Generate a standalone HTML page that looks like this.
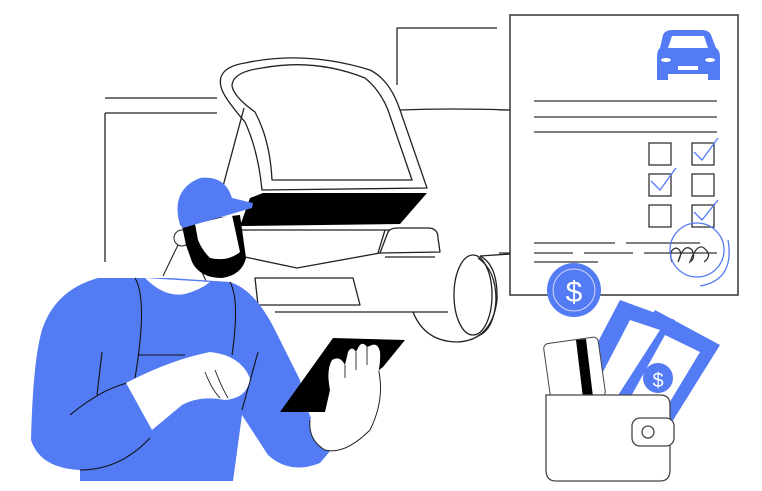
<!DOCTYPE html>
<html><head><meta charset="utf-8"><style>
html,body{margin:0;padding:0;background:#fff;width:762px;height:491px;overflow:hidden}
</style></head><body>
<svg width="762" height="491" viewBox="0 0 762 491" xmlns="http://www.w3.org/2000/svg">
<g fill="none" stroke="#222" stroke-width="1.3" stroke-linejoin="round">
<path d="M105 98 H217 M105 113 H217 M105 113 V262"/>
<path d="M397 85 V28 H497"/>
<path d="M400 110 Q450 108 510 110"/>
<path d="M480 256 L510 254"/>
<path d="M222 90 Q214 68 245 63 Q305 50 370 70 Q390 80 400 110 L427 188 L262 190 Q258 150 245 122 Q226 100 222 90 Z"/>
<path d="M232 86 Q232 72 262 68 Q315 58 365 78 Q380 90 388 110 L412 180 L272 180 Q270 140 255 112 Q234 97 232 86 Z"/>
<path d="M244 108 L222 190"/>
<path d="M240 230 H390 M385 230 L378 253 M380 253 L388 232 Q390 228 398 228 H428 Q438 228 438 238 L440 252 Z"/>
<path d="M245 257 L297 268 L380 253 M385 257 H435"/>
<path d="M255 278 H353 L360 305 H258 Z"/>
<path d="M275 312 H448"/>
<ellipse cx="473" cy="295" rx="19" ry="40"/>
<path d="M478 258 Q496 270 496 300 Q494 330 478 336"/>
<path d="M413 312 Q425 342 458 342 Q492 340 497 300 Q498 265 480 256"/>
</g>
<polygon points="263,193 427,193 400,224 240,226 250,198" fill="#000"/>
<rect x="510" y="15" width="228" height="280" fill="#fff" stroke="#333" stroke-width="1.5"/>
<path d="M499 110 H510 M499 253 H510" stroke="#333" stroke-width="1.3"/>
<path d="M663 35 Q665 30 672 30 H702 Q709 30 711 35 L716 48 Q720 50 720 58 V80 H708 V74 H668 V80 H657 V58 Q657 50 660 48 Z" fill="#537bf3"/>
<path d="M668 48 L672 36 H704 L708 48 Z" fill="#fff"/>
<rect x="678" y="66" width="20" height="4" fill="#fff"/>
<ellipse cx="666" cy="60" rx="5" ry="2" fill="#fff"/><ellipse cx="710" cy="60" rx="5" ry="2" fill="#fff"/>
<g stroke="#333" stroke-width="1.3" fill="none">
<path d="M534 101 H717 M534 117 H717 M534 132 H717"/>
<rect x="649" y="143" width="22" height="22"/><rect x="692" y="143" width="22" height="22"/>
<rect x="649" y="174" width="22" height="22"/><rect x="692" y="174" width="22" height="22"/>
<rect x="649" y="205" width="22" height="22"/><rect x="692" y="205" width="22" height="22"/>
<path d="M534 243 H615 M626 243 H700 M534 253 H573 M584 253 H633 M644 253 H717 M534 262 H598"/>
<path d="M672 262 Q668 250 676 248 Q684 250 678 262 Q684 242 692 250 Q696 258 690 262 Q698 240 706 250 Q712 256 704 262"/>
</g>
<g stroke="#537bf3" stroke-width="1.3" fill="none">
<path d="M694 152 L702 160 L718 138 M651 181 L660 190 L676 168 M694 212 L702 220 L718 200"/>
<circle cx="697" cy="250" r="27"/><path d="M700 286 Q735 280 728 240"/>
</g>
<circle cx="574" cy="290" r="27" fill="#537bf3"/>
<circle cx="574" cy="290" r="21" fill="none" stroke="#cfd9ff" stroke-width="1"/>
<text x="574" y="302" font-family="Liberation Sans, sans-serif" font-size="30" fill="#fff" text-anchor="middle">$</text>
<polygon points="620,300 675,320 613,412 570,395" fill="#537bf3"/>
<polygon points="655,310 720,345 672,422 600,400" fill="#537bf3"/>
<polygon points="630,320 660,330 615,400 592,393" fill="#fff"/>
<polygon points="665,335 700,352 665,410 630,398" fill="#fff"/>
<circle cx="658" cy="378" r="15" fill="#537bf3"/>
<text x="658" y="387" font-family="Liberation Sans, sans-serif" font-size="20" fill="#fff" text-anchor="middle">$</text>
<rect x="547" y="340" width="55" height="60" rx="5" fill="#fff" stroke="#444" transform="rotate(-8 575 370)"/>
<polygon points="576,340 586,339 593,397 583,398" fill="#000"/>
<path d="M546 395 H660 Q670 395 670 405 V470 Q670 481 660 481 H556 Q546 481 546 470 Z" fill="#fff" stroke="#444" stroke-width="1.3"/>
<rect x="632" y="418" width="42" height="28" rx="8" fill="#fff" stroke="#444" stroke-width="1.3"/>
<circle cx="648" cy="432" r="6" fill="none" stroke="#444" stroke-width="1.3"/>
<!-- person -->
<path d="M178 245 L163 276 L200 278 L205 268 Z" fill="#fff"/>
<path d="M178 245 L163 276 M202 272 L206 281" stroke="#222" stroke-width="1.1" fill="none"/>
<path d="M98 278 Q55 290 42 330 Q33 360 31 440 Q40 468 80 470 V481 H233 L242 415 L268 455 Q290 475 320 463 L331 450 Q310 430 300 380 L275 330 Q255 290 230 282 L170 278 Z" fill="#537bf3"/>
<path d="M145 278 Q165 298 185 294 Q200 290 210 282" fill="#fff"/>
<g stroke="#111" stroke-width="1.1" fill="none">
<path d="M135 278 Q148 300 135 378 M230 282 Q240 300 232 355 M138 355 H185 M102 352 L97 395 M70 415 Q100 390 127 383 M80 470 Q120 470 150 438 M258 352 L242 410"/>
</g>
<path d="M126 383 Q170 360 210 352 Q240 355 250 378 Q248 398 225 400 Q200 395 182 405 L152 430 Z" fill="#fff"/>
<path d="M205 372 Q212 390 220 398 M215 370 Q222 388 228 398" stroke="#222" stroke-width="0.9" fill="none"/>
<path d="M372 350 Q390 390 370 430 Q345 455 325 450 Q308 440 310 420" fill="#fff" stroke="#222" stroke-width="1"/>
<polygon points="333,338 405,340 383,367 325,412 280,412" fill="#000"/>
<path d="M330 390 Q326 370 332 360 Q340 355 345 365 L348 352 Q352 345 356 352 L358 348 Q362 340 367 347 L372 345 Q378 343 380 352 Q382 380 360 408 L325 412 Z" fill="#fff"/>
<path d="M345 365 V378 M356 352 V370 M367 347 V365" stroke="#222" stroke-width="0.9"/>
<circle cx="182" cy="238" r="8" fill="#fff" stroke="#222"/>
<path d="M182 226 L195 220 L240 215 L246 258 Q242 275 222 278 Q200 278 192 262 L186 245 Z" fill="#000"/>
<path d="M195 224 L232 215 L240 252 Q228 262 210 258 Q202 250 198 240 Z" fill="#fff"/>
<path d="M180 225 Q170 190 200 178 Q225 175 232 198 L253 203 L252 208 L183 228 Z" fill="#537bf3"/>
</svg>
</body></html>
